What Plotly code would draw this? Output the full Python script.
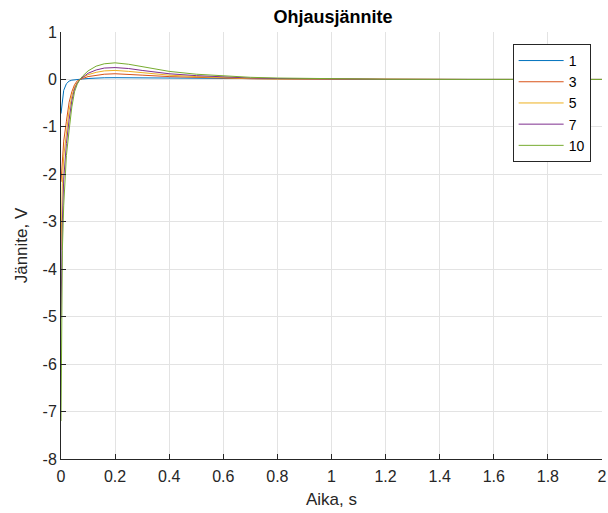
import plotly.graph_objects as go

t = [0, 0.005, 0.01, 0.02, 0.03, 0.04, 0.05, 0.06, 0.07, 0.08, 0.1, 0.13, 0.16,
     0.2, 0.25, 0.3, 0.4, 0.5, 0.6, 0.7, 0.8, 1.0, 1.2, 1.5, 2.0]

labels = ["1", "3", "5", "7", "10"]

v1 = [-0.72, -0.42, -0.23, -0.09, -0.035, -0.015, -0.005, 0.0, 0.005, 0.01, 0.02, 0.03, 0.035,
      0.037, 0.035, 0.03, 0.02, 0.013, 0.008, 0.005, 0.003, 0.001, 0.0, 0.0, 0.0]
v3 = [-2.16, -1.6, -1.3, -0.88, -0.48, -0.26, -0.11, -0.03, 0.0, 0.02, 0.06, 0.09, 0.11,
      0.12, 0.11, 0.09, 0.06, 0.04, 0.025, 0.015, 0.01, 0.004, 0.002, 0.0, 0.0]
v5 = [-3.6, -2.2, -1.62, -1.07, -0.65, -0.35, -0.16, -0.06, 0.0, 0.04, 0.1, 0.15, 0.18,
      0.19, 0.17, 0.14, 0.09, 0.06, 0.035, 0.02, 0.013, 0.005, 0.002, 0.0, 0.0]
v7 = [-5.04, -3.0, -2.1, -1.35, -0.85, -0.45, -0.2, -0.08, 0.0, 0.05, 0.13, 0.2, 0.24,
      0.25, 0.23, 0.19, 0.12, 0.08, 0.05, 0.03, 0.02, 0.007, 0.003, 0.001, 0.0]
v10 = [-7.2, -3.6, -2.65, -1.6, -1.07, -0.58, -0.26, -0.1, 0.0, 0.07, 0.18, 0.28, 0.33,
       0.35, 0.32, 0.27, 0.17, 0.11, 0.07, 0.045, 0.03, 0.01, 0.004, 0.001, 0.0]

series = [v1, v3, v5, v7, v10]
colors = ["#0072BD", "#D95319", "#EDB120", "#7E2F8E", "#77AC30"]

x_ticks = [0, 0.2, 0.4, 0.6, 0.8, 1, 1.2, 1.4, 1.6, 1.8, 2]
x_ticklabels = ["0", "0.2", "0.4", "0.6", "0.8", "1", "1.2", "1.4", "1.6", "1.8", "2"]
y_ticks = [1, 0, -1, -2, -3, -4, -5, -6, -7, -8]
y_ticklabels = ["1", "0", "-1", "-2", "-3", "-4", "-5", "-6", "-7", "-8"]

FONT = "Liberation Sans, Arial, sans-serif"

fig = go.Figure()
for lab, vals, col in zip(labels, series, colors):
    fig.add_trace(go.Scatter(x=t, y=vals, mode="lines", name=lab,
                             line=dict(color=col, width=1)))

axis_common = dict(
    showline=True, linecolor="#262626", linewidth=1,
    ticks="inside", ticklen=5, tickcolor="#262626",
    showgrid=True, gridcolor="#e3e3e3", gridwidth=1,
    zeroline=False, mirror=False, automargin=False,
    tickfont=dict(family=FONT, size=16, color="#262626"),
)

W, H = 608, 513
fig.update_layout(
    width=W, height=H,
    margin=dict(l=61, r=6, t=32, b=54),
    paper_bgcolor="white", plot_bgcolor="white",
    title=dict(text="<b>Ohjausjännite</b>", x=333 / W, xanchor="center",
               y=1 - 16.5 / H, yanchor="middle",
               font=dict(family=FONT, size=18, color="black")),
    font=dict(family=FONT, size=16, color="#262626"),
    xaxis=dict(range=[0, 2], tickvals=x_ticks, ticktext=x_ticklabels,
               ticklabelstandoff=3,
               title=dict(text="Aika, s", standoff=8,
                          font=dict(family=FONT, size=17, color="#262626")),
               **axis_common),
    yaxis=dict(range=[-8, 1], tickvals=y_ticks, ticktext=y_ticklabels,
               title=dict(text="Jännite, V", standoff=10,
                          font=dict(family=FONT, size=17, color="#262626")),
               **axis_common),
    legend=dict(x=0.979, y=0.972, xanchor="right", yanchor="top",
                bgcolor="white", bordercolor="#262626", borderwidth=1,
                itemwidth=45,
                font=dict(family=FONT, size=14, color="black")),
    showlegend=True,
)

fig.write_html(
    "out.html",
    config={"displayModeBar": False},
    post_script="document.body.style.margin='0';document.body.style.overflow='hidden';",
)
